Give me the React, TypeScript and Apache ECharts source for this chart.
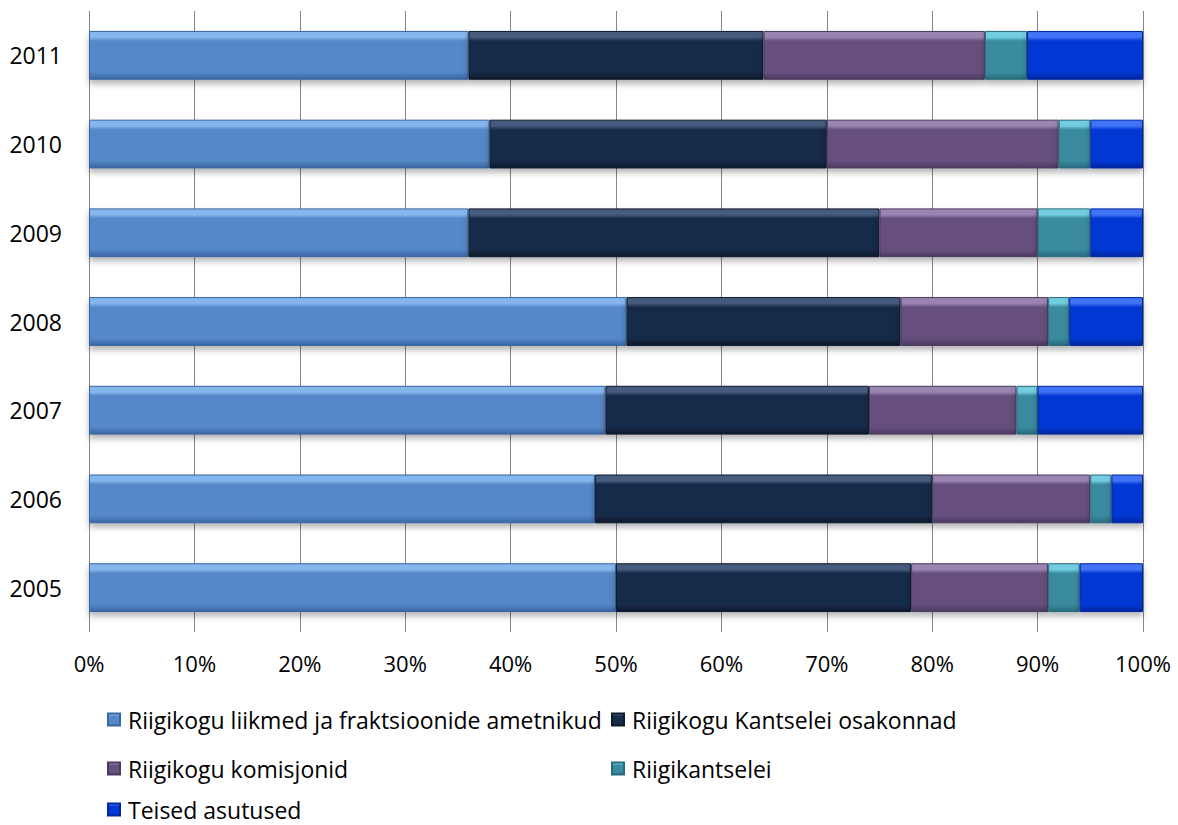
import React, { useEffect, useRef } from "react";
import * as echarts from "echarts";

const years = ["2005", "2006", "2007", "2008", "2009", "2010", "2011"];
const seriesNames = [
  "Riigikogu liikmed ja fraktsioonide ametnikud",
  "Riigikogu Kantselei osakonnad",
  "Riigikogu komisjonid",
  "Riigikantselei",
  "Teised asutused",
];
const liikmed = [50, 48, 49, 51, 36, 38, 36];
const kantselei = [28, 32, 25, 26, 39, 32, 28];
const komisjonid = [13, 15, 14, 14, 15, 22, 21];
const riigikantselei = [3, 2, 2, 2, 5, 3, 4];
const teised = [6, 3, 10, 7, 5, 5, 11];
const xTicks = [0, 10, 20, 30, 40, 50, 60, 70, 80, 90, 100];

const palette = [
  { hi: "#86B6EE", main: "#5588C8", lo: "#3A66A2" },
  { hi: "#455B7E", main: "#182B48", lo: "#0E1A2E" },
  { hi: "#9A84B2", main: "#66507F", lo: "#4A3A60" },
  { hi: "#73CDE0", main: "#3A8B9F", lo: "#276B7C" },
  { hi: "#3F73F5", main: "#0438D4", lo: "#0226A0" },
];

const FONT = "'Open Sans', 'Noto Sans', sans-serif";

function grad(p: { hi: string; main: string; lo: string }) {
  return new echarts.graphic.LinearGradient(0, 0, 0, 1, [
    { offset: 0, color: p.hi },
    { offset: 0.12, color: p.hi },
    { offset: 0.2, color: p.main },
    { offset: 0.85, color: p.main },
    { offset: 1, color: p.lo },
  ]);
}

export default function App() {
  const ref = useRef<HTMLDivElement>(null);
  useEffect(() => {
    if (!ref.current) return;
    const chart = echarts.init(ref.current, undefined, { renderer: "svg" });
    const values = [liikmed, kantselei, komisjonid, riigikantselei, teised];
    const legendPos = [
      { left: 107, top: 708 },
      { left: 611, top: 708 },
      { left: 107, top: 757 },
      { left: 611, top: 757 },
      { left: 107, top: 798 },
    ];
    chart.setOption({
      animation: false,
      backgroundColor: "#ffffff",
      grid: { left: 89, right: 35, top: 11, bottom: 193, containLabel: false },
      xAxis: {
        type: "value",
        min: 0,
        max: 100,
        interval: 10,
        axisLine: { show: false },
        axisTick: { show: false },
        axisLabel: {
          formatter: (v: number) => (xTicks.includes(v) ? v + "%" : ""),
          color: "#000",
          fontSize: 22,
          fontFamily: FONT,
          margin: 20,
        },
        splitLine: { show: true, lineStyle: { color: "#868686", width: 1 } },
      },
      yAxis: {
        type: "category",
        data: years,
        axisLine: { show: false },
        axisTick: { show: false },
        axisLabel: { color: "#000", fontSize: 23, fontFamily: FONT, margin: 27 },
        splitLine: { show: false },
      },
      legend: seriesNames.map((n, i) => ({
        data: [n],
        left: legendPos[i].left,
        top: legendPos[i].top,
        icon: "rect",
        itemWidth: 12,
        itemHeight: 12,
        itemGap: 0,
        padding: 0,
        selectedMode: false,
        textStyle: {
          color: "#000",
          fontSize: 23,
          lineHeight: 20,
          fontFamily: FONT,
          padding: [0, 0, 0, 3],
        },
      })),
      series: seriesNames.map((n, i) => ({
        name: n,
        type: "bar",
        stack: "total",
        data: values[i],
        barWidth: "55%",
        itemStyle: {
          color: grad(palette[i]),
          borderColor: palette[i].lo,
          borderWidth: 1,
          shadowColor: "rgba(0,0,0,0.3)",
          shadowBlur: 6,
          shadowOffsetY: 4,
        },
      })),
    });
    return () => chart.dispose();
  }, []);
  return (
    <div
      ref={ref}
      style={{ position: "absolute", left: 0, top: 0, width: 1178, height: 825 }}
    />
  );
}
